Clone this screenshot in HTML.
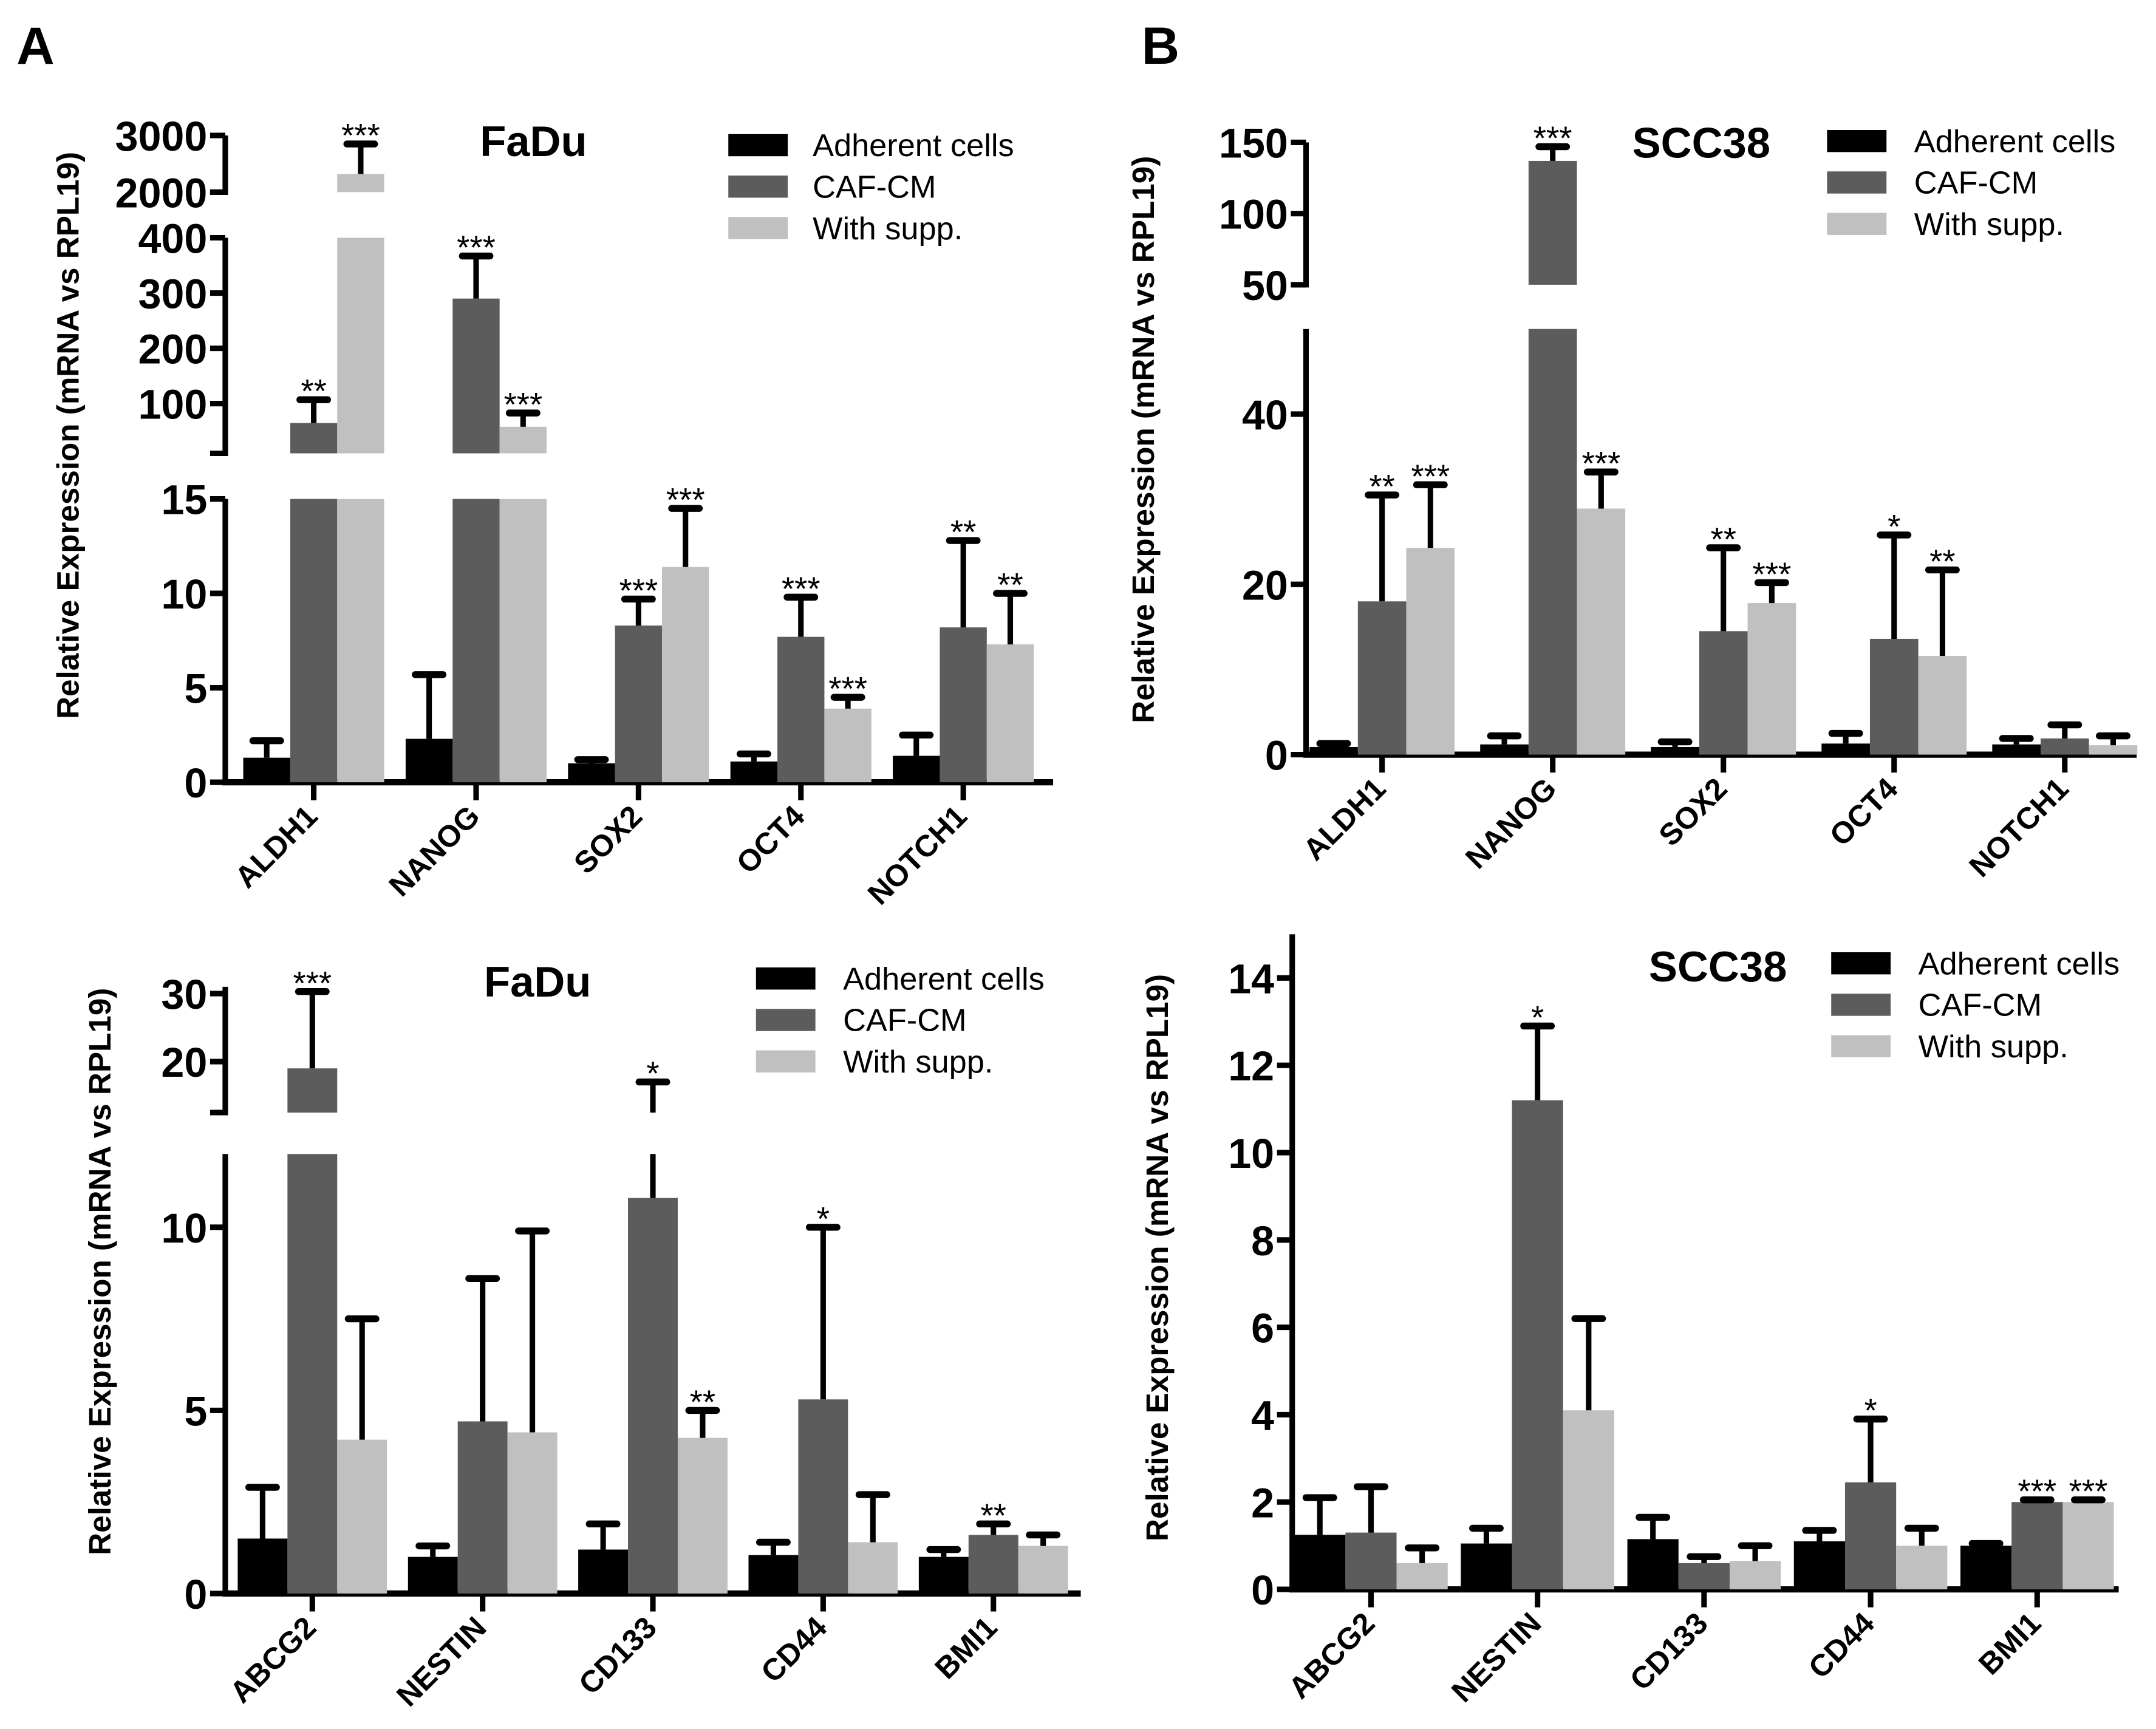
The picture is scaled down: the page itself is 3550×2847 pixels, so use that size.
<!DOCTYPE html>
<html><head><meta charset="utf-8"><style>
html,body{margin:0;padding:0;background:#fff;}
svg{display:block;font-family:"Liberation Sans",Arial,sans-serif;}
</style></head><body>
<svg id="fig" width="3550" height="2847" viewBox="0 0 1560 1251" xmlns="http://www.w3.org/2000/svg">
<rect width="1560" height="1251" fill="#fff"/>
<text x="12" y="46" font-size="38" font-weight="bold">A</text>
<text x="826" y="46" font-size="38" font-weight="bold">B</text>
</svg>
<script>
// ---- Data ----
const seriesNames = ["Adherent cells","CAF-CM","With supp."];
const seriesColors = ["#000000","#5c5c5c","#c0c0c0"];

const faduTopCats = ["ALDH1","NANOG","SOX2","OCT4","NOTCH1"];
const faduTopAdh = [1.3,2.3,1.0,1.1,1.4];
const faduTopAdhErr = [2.2,5.7,1.2,1.5,2.5];
const faduTopCaf = [65,290,8.3,7.7,8.2];
const faduTopCafErr = [107,367,9.7,9.8,12.8];
const faduTopSup = [2320,58,11.4,3.9,7.3];
const faduTopSupErr = [2850,83,14.5,4.5,10.0];
const faduTopStars = [["","","","",""],["**","***","***","***","**"],["***","***","***","***","**"]];

const sccTopCats = ["ALDH1","NANOG","SOX2","OCT4","NOTCH1"];
const sccTopAdh = [0.9,1.2,0.9,1.3,1.2];
const sccTopAdhErr = [1.3,2.2,1.5,2.5,1.9];
const sccTopCaf = [18,137,14.5,13.6,1.9];
const sccTopCafErr = [30.5,147,24.3,25.8,3.5];
const sccTopSup = [24.3,28.9,17.8,11.6,1.1];
const sccTopSupErr = [31.7,33.2,20.2,21.7,2.2];
const sccTopStars = [["","","","",""],["**","***","**","*",""],["***","***","***","**",""]];

const faduBotCats = ["ABCG2","NESTIN","CD133","CD44","BMI1"];
const faduBotAdh = [1.5,1.0,1.2,1.05,1.0];
const faduBotAdhErr = [2.9,1.3,1.9,1.4,1.2];
const faduBotCaf = [19,4.7,10.8,5.3,1.6];
const faduBotCafErr = [30.3,8.6,17,10.0,1.9];
const faduBotSup = [4.2,4.4,4.25,1.4,1.3];
const faduBotSupErr = [7.5,9.9,5.0,2.7,1.6];
const faduBotStars = [["","","","",""],["***","","*","*","**"],["","","**","",""]];

const sccBotCats = ["ABCG2","NESTIN","CD133","CD44","BMI1"];
const sccBotAdh = [1.25,1.05,1.15,1.1,1.0];
const sccBotAdhErr = [2.1,1.4,1.65,1.35,1.05];
const sccBotCaf = [1.3,11.2,0.6,2.45,2.0];
const sccBotCafErr = [2.35,12.9,0.75,3.9,2.05];
const sccBotSup = [0.6,4.1,0.65,1.0,2.0];
const sccBotSupErr = [0.95,6.2,1.0,1.4,2.05];
const sccBotStars = [["","","","",""],["","*","","*","***"],["","","","","***"]];

const NS = "http://www.w3.org/2000/svg";
const svg = document.getElementById('fig');
function mk(tag, attrs, parent){
  const e = document.createElementNS(NS, tag);
  for (const k in attrs) e.setAttribute(k, attrs[k]);
  (parent||svg).appendChild(e);
  return e;
}

function panel(cfg){
  const g = mk('g', {});
  
  
  const segs = cfg.segs;
  function segScale(s, v){ return s.p0 + (v - s.d0) * (s.p1 - s.p0) / (s.d1 - s.d0); }
  segs.forEach((s, si) => {
    const ax = mk('line', {x1:cfg.ax, x2:cfg.ax, y1:s.p0 + (si===0?2:0), y2:s.p1, stroke:'#000','stroke-width':4}, g);
    
    
    if (si > 0) {
      const et = mk('line', {x1:cfg.ax-11, x2:cfg.ax+2, y1:s.p0, y2:s.p0, stroke:'#000','stroke-width':4}, g);
      
      
    }
    s.ticks.forEach(t => {
      const y = segScale(s, t);
      const tk = mk('line', {x1:cfg.ax-11, x2:cfg.ax, y1:y, y2:y, stroke:'#000','stroke-width':4}, g);
      
      
      const tl = mk('text', {x:cfg.ax-13, y:y+11, 'text-anchor':'end','font-size':30,'font-weight':'bold'}, g);
      tl.textContent = String(t);
      
      
    });
  });
  const y0 = segs[0].p0;
  const xa = mk('line', {x1:cfg.ax-2, x2:cfg.xEnd, y1:y0, y2:y0, stroke:'#000','stroke-width':4.5}, g);
  
  
  const vals = [cfg.adh, cfg.caf, cfg.sup];
  const errs = [cfg.adhE, cfg.cafE, cfg.supE];
  cfg.cats.forEach((c, i) => {
    const cx = cfg.c0 + i * cfg.step;
    const tk = mk('line', {x1:cx, x2:cx, y1:y0, y2:y0+13, stroke:'#000','stroke-width':4}, g);
    
    
    const lx = cx + 4, ly = y0 + 26;
    const lab = mk('text', {x:lx, y:ly, 'text-anchor':'end','font-size':22,'font-weight':'bold', transform:`rotate(-45 ${lx} ${ly})`}, g);
    lab.textContent = c;
    
    
    for (let s = 0; s < 3; s++) {
      const v = vals[s][i], e = errs[s][i];
      const bx = cx + (s - 1.5) * cfg.bw;
      const bc = bx + cfg.bw / 2;
      let topY = null;
      segs.forEach((sg, si) => {
        const lo = si > 0 ? segs[si-1].d1 : sg.d0;
        if (v > lo) {
          const yt = segScale(sg, Math.min(v, sg.d1));
          const yb = sg.p0;
          const r = mk('rect', {x:bx, y:yt, width:cfg.bw, height:Math.max(0, yb - yt), fill:seriesColors[s]}, g);
          
          
        }
        if (e > lo && v < sg.d1) {
          const ya = segScale(sg, Math.max(v, sg.d0));
          const yb2 = segScale(sg, Math.min(e, sg.d1));
          const el = mk('line', {x1:bc, x2:bc, y1:ya, y2:yb2, stroke:'#000','stroke-width':4}, g);
          
          
          if (e <= sg.d1) {
            topY = yb2;
            const cap = mk('line', {x1:bc-10, x2:bc+10, y1:yb2, y2:yb2, stroke:'#000','stroke-width':5,'stroke-linecap':'round'}, g);
            
            
          }
        }
      });
      const st = cfg.stars[s][i];
      if (st && topY !== null) {
        const t = mk('text', {x:bc, y:topY + 2, 'text-anchor':'middle','font-size':24}, g);
        t.textContent = st;
        
        
      }
    }
  });
  const ti = mk('text', {x:cfg.title[1], y:cfg.title[2], 'text-anchor':'middle','font-size':31,'font-weight':'bold'}, g);
  ti.textContent = cfg.title[0];
  
  
  seriesNames.forEach((n, k) => {
    const ly = cfg.leg[1] + k * cfg.leg[3];
    const sw = mk('rect', {x:cfg.leg[0], y:ly - 8, width:43, height:16, fill:seriesColors[k]}, g);
    
    
    const lt = mk('text', {x:cfg.leg[2], y:ly + 8, 'font-size':23}, g);
    lt.textContent = n;
    
    
  });
  const yt = mk('text', {x:0, y:0, 'text-anchor':'middle','font-size':22.5,'font-weight':'bold', transform:`translate(${cfg.ylab[0]} ${cfg.ylab[1]}) rotate(-90)`}, g);
  yt.textContent = 'Relative Expression (mRNA vs RPL19)';
  
  
}

panel({name:'fadu-top-chart', ax:163, xEnd:762, c0:227, step:117.5, bw:34,
  cats:faduTopCats, adh:faduTopAdh, adhE:faduTopAdhErr, caf:faduTopCaf, cafE:faduTopCafErr, sup:faduTopSup, supE:faduTopSupErr, stars:faduTopStars,
  segs:[{d0:0,d1:15,p0:566,p1:361,ticks:[0,5,10,15]},
        {d0:10,d1:400,p0:328,p1:172,ticks:[100,200,300,400]},
        {d0:2000,d1:3000,p0:139,p1:98,ticks:[2000,3000]}],
  title:['FaDu',386,113], leg:[527,105,588,30], ylab:[57,315]});

panel({name:'scc38-top-chart', ax:945, xEnd:1546, c0:1000, step:123.5, bw:35,
  cats:sccTopCats, adh:sccTopAdh, adhE:sccTopAdhErr, caf:sccTopCaf, cafE:sccTopCafErr, sup:sccTopSup, supE:sccTopSupErr, stars:sccTopStars,
  segs:[{d0:0,d1:50,p0:546,p1:238,ticks:[0,20,40]},
        {d0:50,d1:150,p0:206,p1:103,ticks:[50,100,150]}],
  title:['SCC38',1231,114], leg:[1322,102,1385,30], ylab:[835,318]});

panel({name:'fadu-bottom-chart', ax:163, xEnd:782, c0:226, step:123.2, bw:36,
  cats:faduBotCats, adh:faduBotAdh, adhE:faduBotAdhErr, caf:faduBotCaf, cafE:faduBotCafErr, sup:faduBotSup, supE:faduBotSupErr, stars:faduBotStars,
  segs:[{d0:0,d1:12,p0:1153,p1:835,ticks:[0,5,10]},
        {d0:12.5,d1:31,p0:805,p1:714,ticks:[20,30]}],
  title:['FaDu',389,721], leg:[547,708,610,30], ylab:[80,920]});

panel({name:'scc38-bottom-chart', ax:935, xEnd:1533, c0:992, step:120.5, bw:37,
  cats:sccBotCats, adh:sccBotAdh, adhE:sccBotAdhErr, caf:sccBotCaf, cafE:sccBotCafErr, sup:sccBotSup, supE:sccBotSupErr, stars:sccBotStars,
  segs:[{d0:0,d1:15,p0:1150,p1:676,ticks:[0,2,4,6,8,10,12,14]}],
  title:['SCC38',1243,710], leg:[1325,697,1388,30], ylab:[845,910]});
</script>
</body></html>
